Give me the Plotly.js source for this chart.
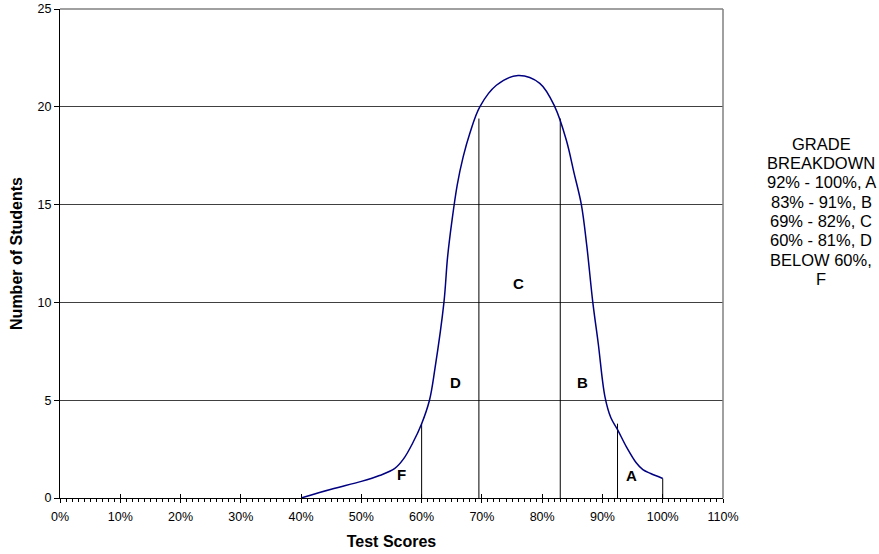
<!DOCTYPE html>
<html>
<head>
<meta charset="utf-8">
<script src="https://cdn.plot.ly/plotly-3.0.1.min.js"></script>
<style>html,body{margin:0;padding:0;background:#fff;}#chart{width:879px;height:554px;}</style>
</head>
<body>
<div id="chart"></div>
<script>
// Distribution curve (test score %, number of students)
var scores = [40, 45, 50, 53, 55.5, 57, 58.5, 60, 61.3, 62.2, 63.7, 64.3, 65.0, 65.9, 66.9, 68.0, 69.65, 72.4, 76, 79.6, 82.1, 84.0, 85.3, 86.5, 87.4, 88.4, 89.3, 90.4, 91.4, 92.5, 94, 95.6, 96.7, 98, 100];
var students = [0, 0.45, 0.85, 1.15, 1.5, 2.0, 2.8, 3.8, 5.0, 6.6, 10.0, 12.3, 14.1, 16.0, 17.45, 18.65, 20.0, 21.1, 21.6, 21.2, 20.0, 18.3, 16.6, 15.0, 12.9, 10.0, 7.9, 5.2, 4.1, 3.5, 2.6, 1.8, 1.45, 1.25, 1.0];

// Grade cut-off lines
var cutoffScores = [60, 69.5, 83, 92.5, 100];
var cutoffHeights = [3.8, 19.4, 19.4, 3.8, 1.0];

// Grade letters inside the curve
var gradeLetters = ["F", "D", "C", "B", "A"];
var letterScores = [56.7, 65.7, 76, 86.7, 94.9];
var letterHeights = [1.2, 5.9, 10.95, 5.9, 1.15];

// Side note
var breakdownLines = ["GRADE", "BREAKDOWN", "92% - 100%, A", "83% - 91%, B", "69% - 82%, C", "60% - 81%, D", "BELOW 60%,", "F"];

var xTickVals = [0,10,20,30,40,50,60,70,80,90,100,110];
var xTickText = ["0%","10%","20%","30%","40%","50%","60%","70%","80%","90%","100%","110%"];
var yTickVals = [0,5,10,15,20,25];

var FONT = "Liberation Sans, Arial, sans-serif";

var cx = [], cy = [];
for (var i = 0; i < cutoffScores.length; i++) {
  cx.push(cutoffScores[i], cutoffScores[i], null);
  cy.push(0, cutoffHeights[i], null);
}

var traces = [
  {x: cx, y: cy, mode: "lines", line: {color: "#000000", width: 1}, hoverinfo: "skip", showlegend: false},
  {x: scores, y: students, mode: "lines", line: {color: "#000080", width: 1.5, shape: "spline", smoothing: 1}, showlegend: false},
  {x: [0], y: [0], xaxis: "x2", mode: "markers", marker: {opacity: 0}, hoverinfo: "skip", showlegend: false}
];

var annotations = [];
for (var k = 0; k < gradeLetters.length; k++) {
  annotations.push({x: letterScores[k], y: letterHeights[k], xref: "x", yref: "y", text: "<b>" + gradeLetters[k] + "</b>",
    showarrow: false, font: {family: FONT, size: 15, color: "#000"}, xanchor: "center", yanchor: "middle"});
}
var plotTop = 9, plotH = 489;
for (var j = 0; j < breakdownLines.length; j++) {
  var py = 143.7 + 19.3 * j;
  annotations.push({x: 1.148, y: (plotTop + plotH - py) / plotH, xref: "paper", yref: "paper", text: breakdownLines[j],
    showarrow: false, font: {family: FONT, size: 16.5, color: "#000"}, xanchor: "center", yanchor: "middle"});
}

var layout = {
  width: 879, height: 554,
  margin: {l: 60, r: 156, t: 9, b: 56},
  paper_bgcolor: "#fff", plot_bgcolor: "#fff",
  font: {family: FONT, size: 12.5, color: "#000"},
  showlegend: false,
  xaxis: {
    range: [0, 110], tickvals: xTickVals, ticktext: xTickText,
    showgrid: false, zeroline: false, showline: true, linecolor: "#000", linewidth: 1,
    ticks: "outside", ticklen: 4, tickcolor: "#000", tickwidth: 1, ticklabelstandoff: 3,
    minor: {dtick: 1, ticks: "outside", ticklen: 3, tickcolor: "#000", tickwidth: 1, showgrid: false},
    tickfont: {family: FONT, size: 12.5},
    title: {text: "<b>Test Scores</b>", font: {family: FONT, size: 16}, standoff: 12},
    fixedrange: true
  },
  xaxis2: {
    range: [0, 110], overlaying: "x", anchor: "y", side: "bottom", tickvals: xTickVals, showticklabels: false,
    ticks: "inside", ticklen: 4, tickcolor: "#000", showgrid: false, zeroline: false, showline: false
  },
  yaxis: {
    range: [0, 25], tickvals: yTickVals,
    showgrid: true, gridcolor: "#404040", gridwidth: 1,
    zeroline: false, showline: true, linecolor: "#000", linewidth: 1,
    ticks: "outside", ticklen: 5, tickcolor: "#000",
    tickfont: {family: FONT, size: 12.5},
    title: {text: "<b>Number of Students</b>", font: {family: FONT, size: 16}, standoff: 10},
    fixedrange: true
  },
  shapes: [
    {type: "line", xref: "paper", yref: "paper", x0: 1, x1: 1, y0: 0, y1: 1, line: {color: "#808080", width: 1.5}},
    {type: "line", xref: "paper", yref: "paper", x0: 0, x1: 1, y0: 1, y1: 1, line: {color: "#808080", width: 1.5}}
  ],
  annotations: annotations
};

Plotly.newPlot("chart", traces, layout, {displayModeBar: false, staticPlot: true});
</script>
</body>
</html>
